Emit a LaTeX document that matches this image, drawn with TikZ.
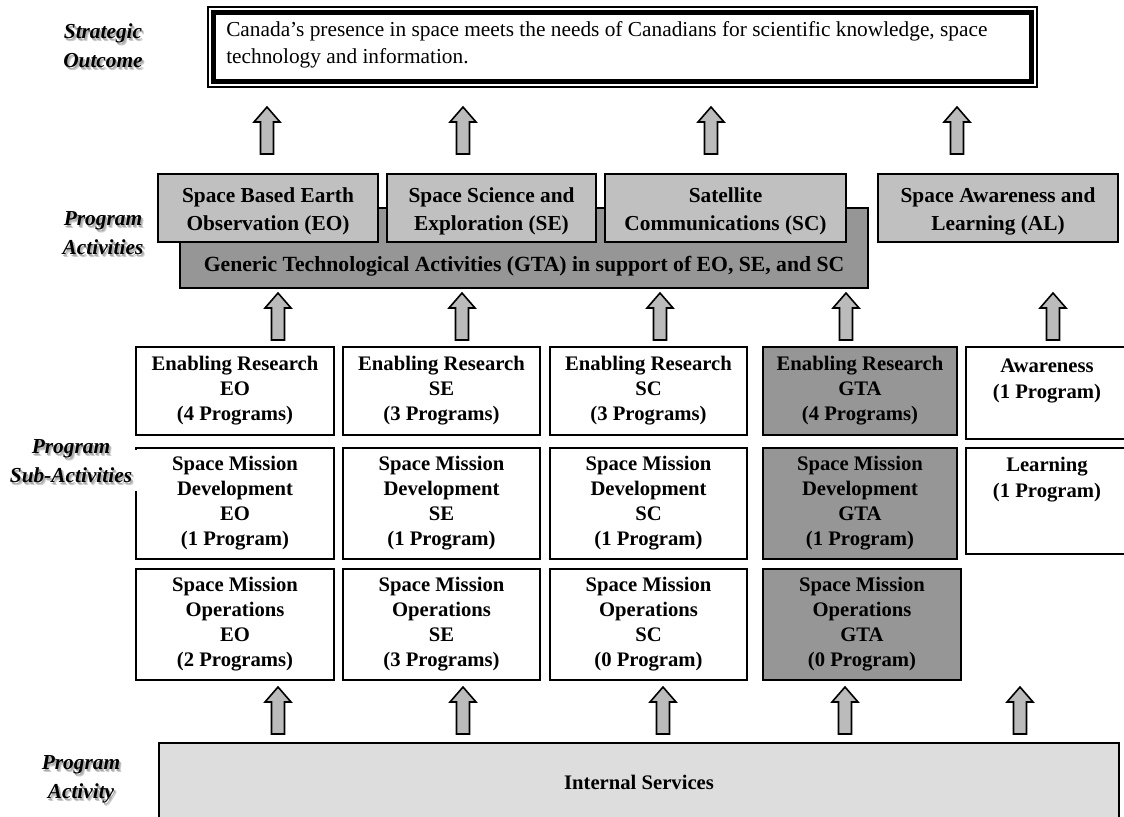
\documentclass[tikz,border=0pt]{standalone}
\usepackage{fontspec}
\setmainfont{Liberation Serif}
\usetikzlibrary{fit}
\definecolor{actgray}{HTML}{C0C0C0}
\definecolor{gtagray}{HTML}{969696}
\definecolor{isgray}{HTML}{DDDDDD}
\definecolor{arrgray}{HTML}{BBBBBB}
\newcommand\blockarrow[3]{%
  \draw[blockarr] (#2-13,#3+15) -- (#2,#3) -- (#2+13,#3+15) -- (#2+6.5,#3+15)
    -- (#2+6.5,#3+47) -- (#2-6.5,#3+47) -- (#2-6.5,#3+15) -- cycle;
  \coordinate (#1) at (#2,#3);}
\newcommand\shlabel[4]{%
  \node[lbl, text=gray!40] at (#2+2.5,#3+3) {#4};
  \node[lbl, text=gray!65] at (#2+1.5,#3+2) {#4};
  \node[lbl] (#1) at (#2,#3) {#4};}
\newcommand\gbox[6]{%
  \node[box, fill=#6, fit={(#2,#3) (#4,#5)}] (#1) {};}
\begin{document}
\begin{tikzpicture}[x=0.75pt,y=-0.75pt,
  font=\fontsize{15.5}{18.75}\selectfont\bfseries,
  box/.style={draw=black, line width=1.5pt, inner sep=0pt},
  txt/.style={align=center, inner sep=0pt},
  lbl/.style={align=center, inner sep=0pt,
    font=\fontsize{16}{21.75}\selectfont\bfseries\itshape},
  blockarr/.style={draw=black, fill=arrgray, line width=1.2pt, line join=miter}]
\useasboundingbox (0,0) rectangle (1124,817);
\clip (0,0) rectangle (1124,817);

% Strategic outcome
\draw[line width=1.5pt] (208,7) rectangle (1037,87);
\node[draw=black, line width=3.75pt, inner sep=0pt, fit={(213.5,12.5) (1031.5,81.5)}] (so) {};
\node[anchor=north west, align=left, inner sep=0pt,
  font=\fontsize{16}{20.25}\selectfont\mdseries] (sot) at (226,21)
  {Canada’s presence in space meets the needs of Canadians for scientific knowledge, space\\
   technology and information.};

% Left labels
\shlabel{l1}{103}{46}{Strategic\\Outcome}
\shlabel{l2}{103}{233}{Program\\Activities}

% Arrows to strategic outcome
\blockarrow{a11}{267}{107}
\blockarrow{a12}{463}{107}
\blockarrow{a13}{711}{107}
\blockarrow{a14}{957}{107}

% Program activities
\gbox{gta}{180}{208}{868}{288}{gtagray}
\node[txt, font=\fontsize{16.25}{20}\selectfont\bfseries] (gtat) at (524,266) {Generic Technological Activities (GTA) in support of EO, SE, and SC};
\gbox{eo}{158}{174}{378}{242}{actgray}
\gbox{se}{387}{174}{596}{242}{actgray}
\gbox{sc}{605}{174}{846}{242}{actgray}
\gbox{al}{878}{174}{1118}{242}{actgray}
\begin{scope}[font=\fontsize{16}{21}\selectfont\bfseries]
\node[txt] (eot) at (268,211) {Space Based Earth\\Observation (EO)};
\node[txt] (set) at (491.5,211) {Space Science and\\Exploration (SE)};
\node[txt] (sct) at (725.5,211) {Satellite\\Communications (SC)};
\node[txt] (alt) at (998,211) {Space Awareness and\\Learning (AL)};
\end{scope}

% Arrows to program activities
\blockarrow{a21}{278}{293}
\blockarrow{a22}{462}{293}
\blockarrow{a23}{660}{293}
\blockarrow{a24}{846}{293}
\blockarrow{a25}{1053}{293}

% Sub-activity grid
\gbox{r1c1}{136}{347}{334}{435}{white}
\gbox{r1c2}{343}{347}{540}{435}{white}
\gbox{r1c3}{550}{347}{747}{435}{white}
\gbox{r1c4}{763}{347}{957}{435}{gtagray}
\gbox{r1c5}{966}{347}{1128}{439}{white}
\gbox{r2c1}{136}{448}{334}{559}{white}
\gbox{r2c2}{343}{448}{540}{559}{white}
\gbox{r2c3}{550}{448}{747}{559}{white}
\gbox{r2c4}{763}{448}{957}{559}{gtagray}
\gbox{r2c5}{966}{448}{1128}{554}{white}
\gbox{r3c1}{136}{569}{334}{680}{white}
\gbox{r3c2}{343}{569}{540}{680}{white}
\gbox{r3c3}{550}{569}{747}{680}{white}
\gbox{r3c4}{763}{569}{961}{680}{gtagray}

\node[txt] (t11) at (r1c1) {Enabling Research\\EO\\(4 Programs)};
\node[txt] (t12) at (r1c2) {Enabling Research\\SE\\(3 Programs)};
\node[txt] (t13) at (r1c3) {Enabling Research\\SC\\(3 Programs)};
\node[txt] (t14) at (r1c4) {Enabling Research\\GTA\\(4 Programs)};
\node[txt, font=\fontsize{15.5}{19.5}\selectfont\bfseries] (t15) at (1047,381) {Awareness\\(1 Program)};
\node[txt] (t21) at (r2c1) {Space Mission\\Development\\EO\\(1 Program)};
\node[txt] (t22) at (r2c2) {Space Mission\\Development\\SE\\(1 Program)};
\node[txt] (t23) at (r2c3) {Space Mission\\Development\\SC\\(1 Program)};
\node[txt] (t24) at (r2c4) {Space Mission\\Development\\GTA\\(1 Program)};
\node[txt, font=\fontsize{15.5}{19.5}\selectfont\bfseries] (t25) at (1047,480) {Learning\\(1 Program)};
\node[txt] (t31) at (r3c1) {Space Mission\\Operations\\EO\\(2 Programs)};
\node[txt] (t32) at (r3c2) {Space Mission\\Operations\\SE\\(3 Programs)};
\node[txt] (t33) at (r3c3) {Space Mission\\Operations\\SC\\(0 Program)};
\node[txt] (t34) at (r3c4) {Space Mission\\Operations\\GTA\\(0 Program)};

\fill[white] (132,450) rectangle (139,491);
\shlabel{l3}{71}{461}{Program\\Sub-Activities}

% Arrows from internal services
\blockarrow{a31}{278}{687}
\blockarrow{a32}{463}{687}
\blockarrow{a33}{663}{687}
\blockarrow{a34}{845}{687}
\blockarrow{a35}{1020}{687}

% Internal services
\gbox{is}{159}{743}{1119}{830}{isgray}
\node[txt] (ist) at (639,782) {Internal Services};
\shlabel{l4}{81}{779}{Program\\Activity}
\end{tikzpicture}
\end{document}
